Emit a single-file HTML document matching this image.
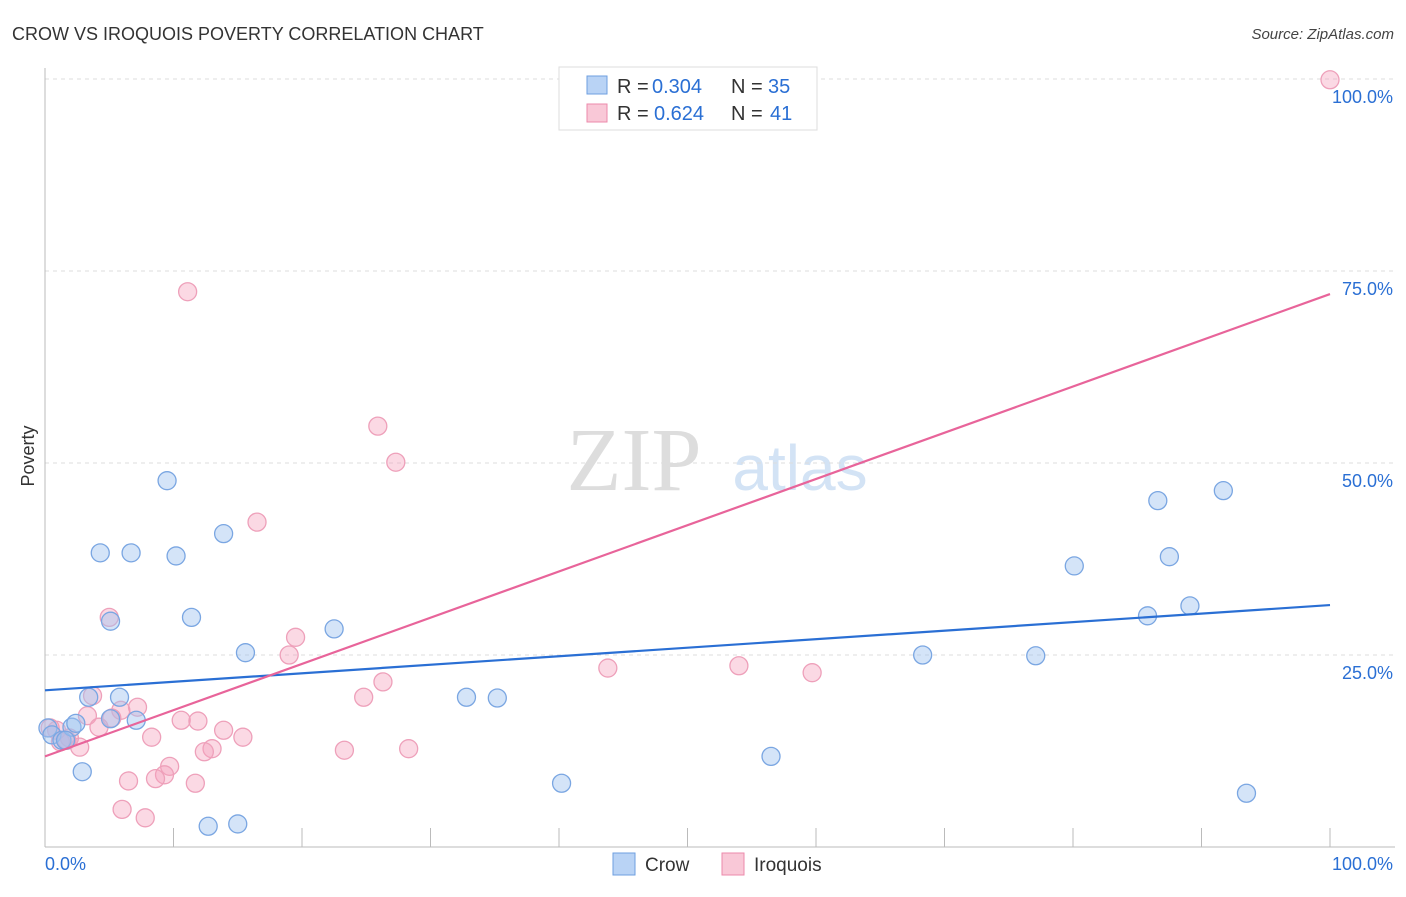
<!DOCTYPE html>
<html><head><meta charset="utf-8"><style>
body{margin:0;background:#fff;font-family:"Liberation Sans",sans-serif;}
svg text{font-family:"Liberation Sans",sans-serif;}
</style></head><body>
<svg id="chart" width="1406" height="892">
<text x="12" y="40" font-size="18" fill="#333">CROW VS IROQUOIS POVERTY CORRELATION CHART</text>
<text x="1394" y="39" font-size="15" fill="#444" text-anchor="end" font-style="italic">Source: ZipAtlas.com</text>
<text x="634" y="490" font-size="90" fill="#ddd" text-anchor="middle" style="font-family:'Liberation Serif',serif">ZIP</text>
<text x="800" y="490" font-size="64" fill="#d3e3f5" text-anchor="middle">atlas</text>
<text x="34" y="456" font-size="18" fill="#333" text-anchor="middle" transform="rotate(-90 34 456)">Poverty</text>
<g id="grid"></g><g id="axes"></g><g id="pts"></g><g id="lines"></g>
<g>
<rect x="559" y="67" width="258" height="63" fill="#fff" stroke="#ddd"/>
<rect x="587" y="76" width="20" height="18" fill="#b9d3f5" stroke="#6e9fe0"/>
<rect x="587" y="104" width="20" height="18" fill="#f9c8d7" stroke="#ec8aab"/>
<g font-size="20">
<text x="617" y="93" fill="#333">R =</text><text x="652" y="93" fill="#2a6fd4">0.304</text>
<text x="731" y="93" fill="#333">N =</text><text x="768" y="93" fill="#2a6fd4">35</text></g>
<g font-size="20">
<text x="617" y="120" fill="#333">R =</text><text x="654" y="120" fill="#2a6fd4">0.624</text>
<text x="731" y="120" fill="#333">N =</text><text x="770" y="120" fill="#2a6fd4">41</text></g>
</g>
<g>
<rect x="613" y="853" width="22" height="22" fill="#b9d3f5" stroke="#6e9fe0"/>
<text x="645" y="871" font-size="19" fill="#333">Crow</text>
<rect x="722" y="853" width="22" height="22" fill="#f9c8d7" stroke="#ec8aab"/>
<text x="754" y="871" font-size="19" fill="#333">Iroquois</text>
</g>
</svg>
<script>
const crowX=[0.23,0.54,1.32,2.1,2.4,3.4,5.8,5.1,7.1,2.9,4.3,6.7,10.2,9.5,13.9,5.1,11.4,15.6,22.5,32.8,35.2,40.2,12.7,15.0,56.5,68.3,77.1,80.1,85.8,86.6,87.5,89.1,91.7,93.5,1.6];
const crowY=[15.5,14.6,13.9,15.6,16.1,19.5,19.5,16.7,16.5,9.8,38.3,38.3,37.9,47.7,40.8,29.4,29.9,25.3,28.4,19.5,19.4,8.3,2.7,3.0,11.8,25.0,24.9,36.6,30.1,45.1,37.8,31.4,46.4,7.0,13.9];
const iroX=[100,11.1,25.9,27.3,16.5,5.0,19.5,19.0,43.8,54.0,59.7,26.3,24.8,3.7,7.2,5.9,3.3,4.2,10.6,11.9,13.9,15.4,8.3,2.7,1.7,0.9,0.4,23.3,28.3,13.0,12.4,9.7,9.3,8.6,6.5,11.7,6.0,7.8,1.2,5.2,1.9];
const iroY=[99.9,72.3,54.8,50.1,42.3,29.9,27.3,25.0,23.3,23.6,22.7,21.5,19.5,19.7,18.2,17.8,17.1,15.6,16.5,16.4,15.2,14.3,14.3,13.0,13.9,15.2,15.5,12.6,12.8,12.8,12.4,10.5,9.4,8.9,8.6,8.3,4.9,3.8,13.7,16.8,14.2];
const crowTrend=[20.4,31.5];
const iroTrend=[11.8,72.0];
const yTicks=[25,50,75,100];
const yTickLabels=["25.0%","50.0%","75.0%","100.0%"];
const xTicks=[0,10,20,30,40,50,60,70,80,90,100];
const NS="http://www.w3.org/2000/svg";
const xs=v=>45+v*12.85, ys=v=>847-v*7.68;
function mk(tag,attrs,parent){const e=document.createElementNS(NS,tag);for(const k in attrs)e.setAttribute(k,attrs[k]);document.getElementById(parent).appendChild(e);return e;}
yTicks.forEach((t,i)=>{
 const l=mk('line',{x1:45,x2:1395,y1:ys(t),y2:ys(t),stroke:'#ddd','stroke-dasharray':'4,4'},'grid');
 
 
 const tx=mk('text',{x:1393,y:ys(t)+24,'font-size':18,fill:'#2a6fd4','text-anchor':'end'},'grid');
 tx.textContent=yTickLabels[i];
 
 
});
const ax=mk('line',{x1:45,x2:45,y1:68,y2:847,stroke:'#bbb'},'axes');


const bx=mk('line',{x1:45,x2:1395,y1:847,y2:847,stroke:'#bbb'},'axes');


xTicks.forEach(t=>{
 const l=mk('line',{x1:xs(t),x2:xs(t),y1:828,y2:847,stroke:'#bbb'},'axes');
 
 
});
const xl0=mk('text',{x:45,y:870,'font-size':18,fill:'#2a6fd4'},'axes');xl0.textContent='0.0%';


const xl1=mk('text',{x:1393,y:870,'font-size':18,fill:'#2a6fd4','text-anchor':'end'},'axes');xl1.textContent='100.0%';


iroX.forEach((x,i)=>{
 const c=mk('circle',{cx:xs(x),cy:ys(iroY[i]),r:9,fill:'rgba(245,160,188,0.4)',stroke:'#eea0ba','stroke-width':1.3},'pts');
 
 
});
crowX.forEach((x,i)=>{
 const c=mk('circle',{cx:xs(x),cy:ys(crowY[i]),r:9,fill:'rgba(160,195,240,0.45)',stroke:'#7aa6e2','stroke-width':1.3},'pts');
 
 
});
const tb=mk('line',{x1:xs(0),x2:xs(100),y1:ys(crowTrend[0]),y2:ys(crowTrend[1]),stroke:'#2a6fd4','stroke-width':2.2},'lines');


const tp=mk('line',{x1:xs(0),x2:xs(100),y1:ys(iroTrend[0]),y2:ys(iroTrend[1]),stroke:'#e8649a','stroke-width':2.2},'lines');


</script>
</body></html>
